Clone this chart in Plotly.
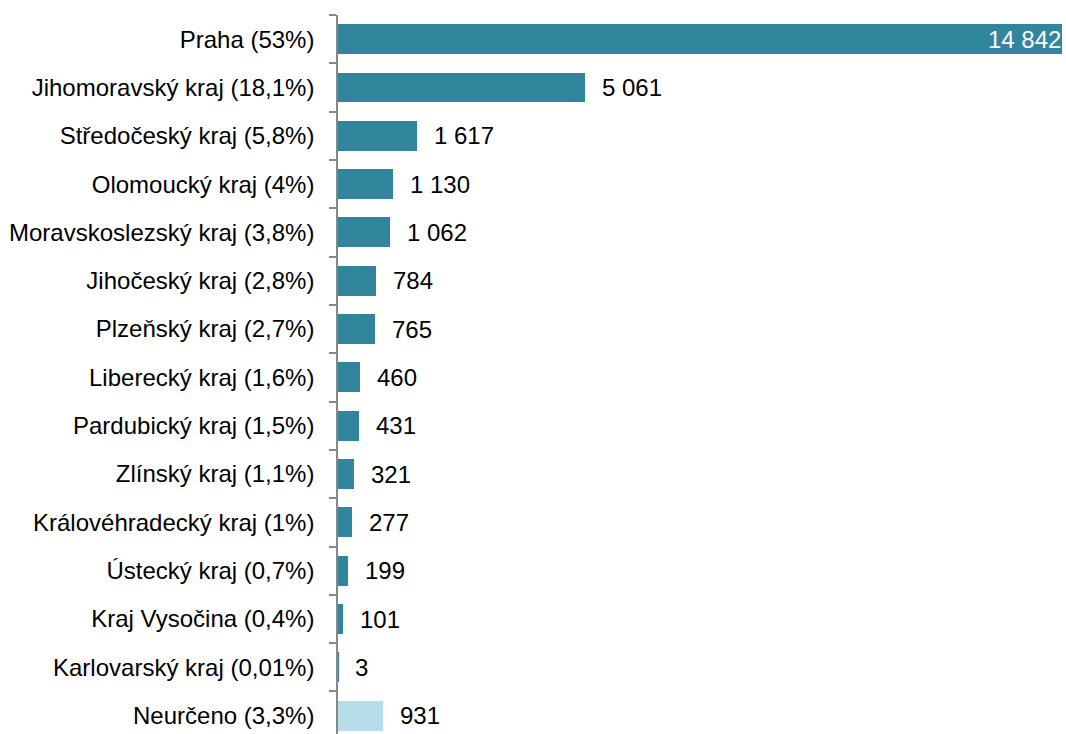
import plotly.graph_objects as go

categories = [
    "Praha (53%)", "Jihomoravský kraj (18,1%)", "Středočeský kraj (5,8%)",
    "Olomoucký kraj (4%)", "Moravskoslezský kraj (3,8%)", "Jihočeský kraj (2,8%)",
    "Plzeňský kraj (2,7%)", "Liberecký kraj (1,6%)", "Pardubický kraj (1,5%)",
    "Zlínský kraj (1,1%)", "Královéhradecký kraj (1%)", "Ústecký kraj (0,7%)",
    "Kraj Vysočina (0,4%)", "Karlovarský kraj (0,01%)", "Neurčeno (3,3%)",
]
values = [14842, 5061, 1617, 1130, 1062, 784, 765, 460, 431, 321, 277, 199, 101, 3, 931]
value_labels = ["14 842", "5 061", "1 617", "1 130", "1 062", "784", "765", "460",
                "431", "321", "277", "199", "101", "3", "931"]

dark = "#31859C"
light = "#B7DDE8"
colors = [light if c.startswith("Neurčeno") else dark for c in categories]

fig = go.Figure()
fig.add_trace(go.Bar(
    x=values, y=categories, orientation="h",
    marker=dict(color=colors, line=dict(width=0)),
    width=0.62, hoverinfo="skip",
))

font = "Liberation Sans, Arial, sans-serif"
for i, (c, v, t) in enumerate(zip(categories, values, value_labels)):
    if i == 0:
        fig.add_annotation(x=v, y=c, text=t, showarrow=False, xanchor="right",
                           xshift=1, font=dict(family=font, size=24, color="white"))
    else:
        fig.add_annotation(x=v, y=c, text=t, showarrow=False, xanchor="left",
                           xshift=15, font=dict(family=font, size=24, color="black"))

fig.update_layout(
    width=1066, height=734,
    margin=dict(l=338, r=4, t=15, b=0, pad=0),
    plot_bgcolor="white", paper_bgcolor="white",
    showlegend=False,
    font=dict(family=font, size=24, color="black"),
    bargap=0,
)
fig.update_xaxes(range=[0, 14842], visible=False, showgrid=False, zeroline=False)
fig.update_yaxes(
    range=[14.38, -0.5], showgrid=False, zeroline=False,
    showline=True, linecolor="#888888", linewidth=1.5,
    ticks="outside", ticklen=7, tickcolor="#888888", tickwidth=1.5,
    tickson="boundaries", ticklabelstandoff=17,
    tickfont=dict(family=font, size=24, color="black"),
)

fig.write_html(
    "out.html",
    config={"displayModeBar": False},
    post_script="document.body.style.margin='0';document.body.style.overflow='hidden';",
)
